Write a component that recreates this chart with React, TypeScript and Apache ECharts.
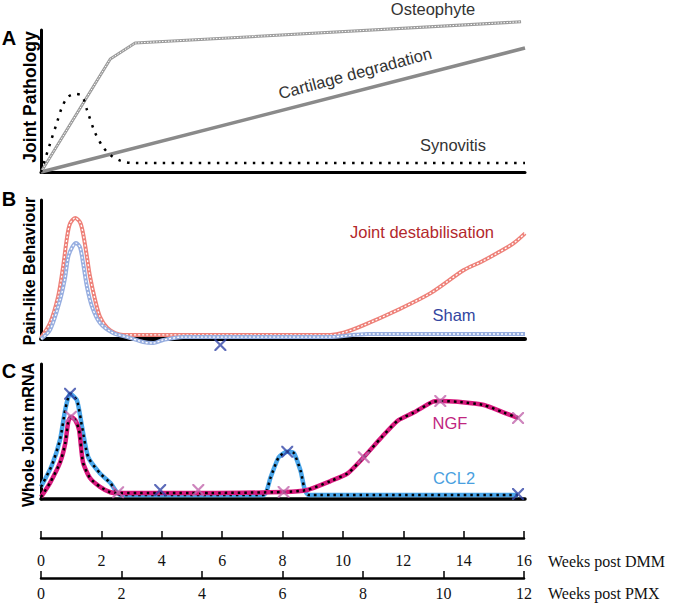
import React, { useEffect, useRef } from "react";
import * as echarts from "echarts";

// ---------- Panel A: Joint pathology (x = weeks post DMM, y = relative level) ----------
const osteoWeeks = [0, 2.29, 3.11, 15.87];
const osteoVals = [0, 79.6, 90.8, 105.8];
const cartWeeks = [0, 16];
const cartVals = [0, 87.3];
const synWeeks = [0, 0.3, 0.53, 0.7, 0.9, 1.13, 1.36, 1.52, 1.79, 2.05, 2.29, 2.65, 3.05, 16];
const synVals = [0, 20, 35, 46, 53, 55, 53.5, 43.7, 27.5, 17.6, 12, 7.7, 6.3, 6.3];

// ---------- Panel B: Pain-like behaviour ----------
const destabWeeks = [0, 0.3, 0.56, 0.73, 0.86, 0.96, 1.13, 1.29, 1.39, 1.52, 1.62, 1.79, 1.95, 2.19, 2.45, 2.72, 5, 7, 9.57, 10.0, 10.67, 11.79, 12.88, 13.98, 14.54, 15.1, 15.63, 16];
const destabVals = [1, 11.5, 30, 52, 73, 83, 87, 84, 76, 59, 45, 28, 16, 8, 4.3, 2.9, 2.9, 2.9, 2.9, 4.5, 10, 20.9, 33, 49.6, 55.4, 62, 69, 76];
const shamWeeks = [0, 0.3, 0.63, 0.8, 0.9, 1.03, 1.16, 1.29, 1.39, 1.52, 1.69, 1.95, 2.38, 2.85, 3.38, 3.71, 4.04, 4.7, 9.5, 10.8, 16];
const shamVals = [0, 6.5, 28, 44.6, 59, 66, 69, 66, 54.7, 37.4, 23, 11.5, 4.3, 1.4, -2.2, -2.9, -0.7, 1.4, 1.4, 3.6, 3.6];
const shamMarkWeeks = [5.93];
const shamMarkVals = [-4.3];

// ---------- Panel C: Whole joint mRNA ----------
const ccl2Weeks = [0, 0.36, 0.63, 0.8, 0.96, 1.19, 1.36, 1.56, 1.95, 2.29, 2.62, 7.35, 7.59, 7.86, 8.14, 8.36, 8.58, 8.85, 15.77];
const ccl2Vals = [9, 25, 44, 66, 78, 73, 53, 31, 19, 12, 3, 3, 16, 31, 35, 34, 21, 3, 3];
const ccl2MarkWeeks = [0.96, 3.94, 8.14, 15.77];
const ccl2MarkVals = [78, 6.7, 35, 3.7];
const ngfWeeks = [0, 0.3, 0.63, 0.8, 0.9, 0.99, 1.13, 1.26, 1.39, 1.62, 1.95, 2.29, 2.55, 5.27, 8.02, 8.8, 9.57, 10.14, 10.67, 11.23, 11.79, 12.32, 12.95, 13.2, 13.78, 14.64, 15.3, 15.77];
const ngfVals = [1.5, 12, 27, 41, 57, 61, 58.5, 51, 27, 15.5, 9, 5, 4.4, 4.4, 5.2, 6.7, 13.3, 19, 31, 45, 58, 64, 72, 72.6, 72, 69.6, 64, 60];
const ngfMarkWeeks = [0.99, 2.55, 5.2, 8.02, 10.67, 13.2, 15.77];
const ngfMarkVals = [61, 5, 6.7, 5.2, 31, 72.6, 60];

// ---------- Bottom time axes ----------
const dmmMax = 16;
const pmxMax = 12;
const tickStep = 2;

const zip = (xs: number[], ys: number[]) => xs.map((x, i) => [x, ys[i]]);

const X_PATH =
  "path://M0,0L1.3,0L5,3.7L8.7,0L10,0L10,1.3L6.3,5L10,8.7L10,10L8.7,10L5,6.3L1.3,10L0,10L0,8.7L3.7,5L0,1.3Z";

const SANS = '"Liberation Sans", Arial, sans-serif';
const SERIF = '"Liberation Serif", "DejaVu Serif", serif';

export default function App() {
  const ref = useRef<HTMLDivElement>(null);

  useEffect(() => {
    const chart = echarts.init(ref.current!, null, { renderer: "svg" });

    const panelX = (gi: number, w: number) => ({
      gridIndex: gi,
      type: "value",
      min: 0,
      max: 16,
      axisLine: { show: true, onZero: false, lineStyle: { color: "#000", width: w } },
      axisTick: { show: false },
      axisLabel: { show: false },
      splitLine: { show: false },
    });
    const panelY = (gi: number, w: number) => ({
      gridIndex: gi,
      type: "value",
      min: 0,
      max: 100,
      axisLine: { show: true, onZero: false, lineStyle: { color: "#000", width: w } },
      axisTick: { show: false },
      axisLabel: { show: false },
      splitLine: { show: false },
    });
    const timeX = (gi: number, max: number, margin: number) => ({
      gridIndex: gi,
      type: "value",
      min: 0,
      max,
      interval: tickStep,
      axisLine: { show: true, onZero: false, lineStyle: { color: "#000", width: 2.5 } },
      axisTick: { show: true, inside: true, length: 7, lineStyle: { color: "#000", width: 1.5 } },
      axisLabel: {
        show: true,
        margin,
        fontFamily: SERIF,
        fontSize: 16,
        color: "#111",
        showMinLabel: true,
        showMaxLabel: true,
      },
      splitLine: { show: false },
    });
    const hiddenY = (gi: number) => ({ gridIndex: gi, type: "value", min: 0, max: 1, show: false });

    const line = (
      gi: number,
      data: number[][],
      color: string,
      width: number,
      extra: any = {}
    ) => ({
      type: "line",
      xAxisIndex: gi,
      yAxisIndex: gi,
      data,
      showSymbol: false,
      symbol: "none",
      clip: false,
      silent: true,
      lineStyle: { color, width, ...(extra.lineStyle || {}) },
      smooth: extra.smooth ?? false,
      z: extra.z ?? 2,
    });

    const marks = (gi: number, data: number[][], color: string) => ({
      type: "scatter",
      xAxisIndex: gi,
      yAxisIndex: gi,
      data,
      symbol: X_PATH,
      symbolSize: 12,
      clip: false,
      silent: true,
      itemStyle: { color },
      z: 10,
    });

    const osteo = zip(osteoWeeks, osteoVals);
    const cart = zip(cartWeeks, cartVals);
    const syn = zip(synWeeks, synVals);
    const destab = zip(destabWeeks, destabVals);
    const sham = zip(shamWeeks, shamVals);
    const ccl2 = zip(ccl2Weeks, ccl2Vals);
    const ngf = zip(ngfWeeks, ngfVals);

    const option: any = {
      animation: false,
      backgroundColor: "#fff",
      grid: [
        { left: 41, top: 30, width: 484, height: 142 },
        { left: 41, top: 200, width: 484, height: 139 },
        { left: 41, top: 364, width: 484, height: 135 },
        { left: 41, top: 537, width: 483, height: 1 },
        { left: 41, top: 577, width: 483, height: 1 },
      ],
      xAxis: [panelX(0, 3), panelX(1, 4), panelX(2, 3.5), timeX(3, dmmMax, 14), timeX(4, pmxMax, 7)],
      yAxis: [panelY(0, 3), panelY(1, 3), panelY(2, 3), hiddenY(3), hiddenY(4)],
      series: [
        // Panel A
        line(0, cart, "#8a8a8a", 3.5),
        line(0, osteo, "#9c9c9c", 3),
        line(0, osteo, "#ffffff", 1, { lineStyle: { type: [1.5, 1.5] }, z: 3 }),
        line(0, syn, "#000", 2.5, { lineStyle: { type: [2.5, 6.5] }, smooth: 0.3, z: 4 }),
        // Panel B
        line(1, destab, "#ee8179", 4, { smooth: 0.3 }),
        line(1, destab, "#ffffff", 1.3, { lineStyle: { type: [2, 2] }, smooth: 0.3, z: 3 }),
        line(1, sham, "#97aee0", 4, { smooth: 0.3, z: 4 }),
        line(1, sham, "#ffffff", 1.3, { lineStyle: { type: [2, 2] }, smooth: 0.3, z: 5 }),
        marks(1, zip(shamMarkWeeks, shamMarkVals), "#3346a8"),
        // Panel C
        line(2, ccl2, "#4aa6ea", 4.5, { smooth: 0.2, z: 2 }),
        line(2, ccl2, "#000", 2.5, { lineStyle: { type: [2.5, 4] }, smooth: 0.2, z: 3 }),
        line(2, ngf, "#d8197e", 4.5, { smooth: 0.2, z: 4 }),
        line(2, ngf, "#000", 2.5, { lineStyle: { type: [2.5, 4] }, smooth: 0.2, z: 5 }),
        marks(2, zip(ccl2MarkWeeks, ccl2MarkVals), "#3346a8"),
        marks(2, zip(ngfMarkWeeks, ngfMarkVals), "#c266ac"),
        // Time axes placeholders
        { type: "line", xAxisIndex: 3, yAxisIndex: 3, data: [] },
        { type: "line", xAxisIndex: 4, yAxisIndex: 4, data: [] },
      ],
      graphic: [
        { type: "text", x: 9, y: 38, style: { text: "A", fill: "#000", font: `bold 20px ${SANS}`, textAlign: "center", textVerticalAlign: "middle" } },
        { type: "text", x: 9, y: 199, style: { text: "B", fill: "#000", font: `bold 20px ${SANS}`, textAlign: "center", textVerticalAlign: "middle" } },
        { type: "text", x: 9, y: 371, style: { text: "C", fill: "#000", font: `bold 20px ${SANS}`, textAlign: "center", textVerticalAlign: "middle" } },
        { type: "text", x: 30, y: 97, rotation: Math.PI / 2, style: { text: "Joint Pathology", fill: "#000", font: `bold 17.5px ${SANS}`, textAlign: "center", textVerticalAlign: "middle" } },
        { type: "text", x: 29, y: 271, rotation: Math.PI / 2, style: { text: "Pain-like Behaviour", fill: "#000", font: `bold 16px ${SANS}`, textAlign: "center", textVerticalAlign: "middle" } },
        { type: "text", x: 28, y: 435, rotation: Math.PI / 2, style: { text: "Whole Joint mRNA", fill: "#000", font: `bold 16px ${SANS}`, textAlign: "center", textVerticalAlign: "middle" } },
        { type: "text", x: 433, y: 9, style: { text: "Osteophyte", fill: "#333", font: `16.5px ${SANS}`, textAlign: "center", textVerticalAlign: "middle" } },
        { type: "text", x: 355, y: 73, rotation: (15 * Math.PI) / 180, style: { text: "Cartilage degradation", fill: "#333", font: `16.5px ${SANS}`, textAlign: "center", textVerticalAlign: "middle" } },
        { type: "text", x: 453, y: 145, style: { text: "Synovitis", fill: "#333", font: `16.5px ${SANS}`, textAlign: "center", textVerticalAlign: "middle" } },
        { type: "text", x: 422, y: 232, style: { text: "Joint destabilisation", fill: "#b3282c", font: `16.5px ${SANS}`, textAlign: "center", textVerticalAlign: "middle" } },
        { type: "text", x: 454, y: 315, style: { text: "Sham", fill: "#3346a0", font: `16.5px ${SANS}`, textAlign: "center", textVerticalAlign: "middle" } },
        { type: "text", x: 450, y: 423, style: { text: "NGF", fill: "#c0267f", font: `16.5px ${SANS}`, textAlign: "center", textVerticalAlign: "middle" } },
        { type: "text", x: 454, y: 478, style: { text: "CCL2", fill: "#4a9fe0", font: `16.5px ${SANS}`, textAlign: "center", textVerticalAlign: "middle" } },
        { type: "text", x: 548, y: 561, style: { text: "Weeks post DMM", fill: "#111", font: `16px ${SERIF}`, textAlign: "left", textVerticalAlign: "middle" } },
        { type: "text", x: 548, y: 593, style: { text: "Weeks post PMX", fill: "#111", font: `16px ${SERIF}`, textAlign: "left", textVerticalAlign: "middle" } },
      ],
    };

    chart.setOption(option);
    return () => chart.dispose();
  }, []);

  return (
    <div
      ref={ref}
      style={{ position: "fixed", left: 0, top: 0, width: 673, height: 604, background: "#fff" }}
    />
  );
}
